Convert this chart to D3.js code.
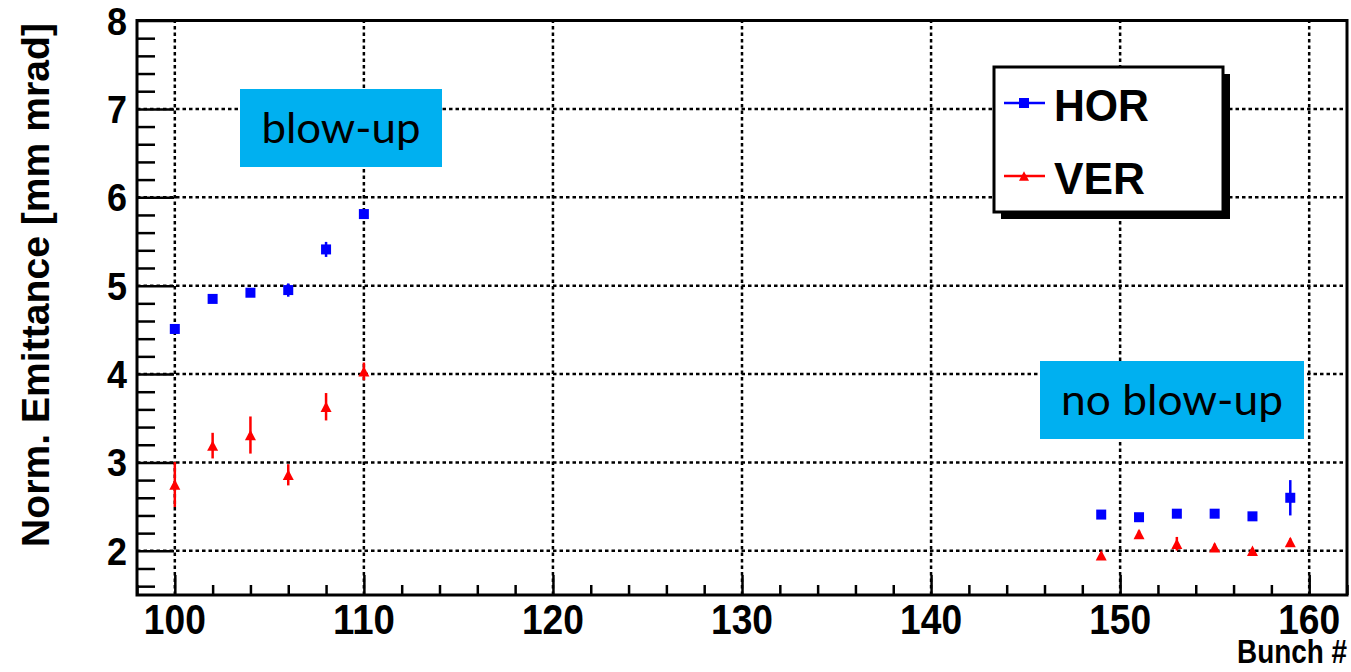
<!DOCTYPE html>
<html>
<head>
<meta charset="utf-8">
<script src="https://cdn.jsdelivr.net/npm/d3@7"></script>
<style>
    body { margin: 0; background: #fff; }
    svg { display: block; }
</style>
</head>
<body>
<svg id="chart"></svg>
<script>
// emittance per bunch

var bunchBlow = [ 100, 102, 104, 106, 108, 110 ];
var horBlow = [ 4.51, 4.85, 4.92, 4.95, 5.41, 5.81 ];
var horBlowErr = [ 0.04, 0.03, 0.03, 0.075, 0.085, 0.04 ];
var verBlow = [ 2.75, 3.19, 3.31, 2.86, 3.63, 4.03 ];
var verBlowErr = [ 0.255, 0.145, 0.21, 0.12, 0.155, 0.1 ];

var bunchNoBlow = [ 149, 151, 153, 155, 157, 159 ];
var horNoBlow = [ 2.41, 2.38, 2.42, 2.42, 2.39, 2.60 ];
var horNoBlowErr = [ 0.03, 0.03, 0.03, 0.03, 0.03, 0.2 ];
var verNoBlow = [ 1.95, 2.19, 2.08, 2.04, 2.00, 2.10 ];
var verNoBlowErr = [ 0.03, 0.04, 0.077, 0.04, 0.03, 0.04 ];

var xTicks = [ 100, 110, 120, 130, 140, 150, 160 ];
var yTicks = [ 2, 3, 4, 5, 6, 7, 8 ];
var seriesNames = [ 'HOR', 'VER' ];
var notes = [ 'blow-up', 'no blow-up' ];

var W = 1351, H = 672;
var padL = 137, padR = 1347, padT = 20.5, padB = 595;

var x = d3.scaleLinear().domain( [ 98, 162 ] ).range( [ padL, padR ] );
var y = d3.scaleLinear().domain( [ 1.5, 8 ] ).range( [ padB, padT ] );

var svg = d3.select( '#chart' )
    .attr( 'width', W )
    .attr( 'height', H );

var tickFont = '"Liberation Sans", Arial, sans-serif';

drawGrid();
drawAxes();
drawSeries( bunchBlow.concat( bunchNoBlow ), horBlow.concat( horNoBlow ), horBlowErr.concat( horNoBlowErr ), '#0000ff', 'square' );
drawSeries( bunchBlow.concat( bunchNoBlow ), verBlow.concat( verNoBlow ), verBlowErr.concat( verNoBlowErr ), '#ff0000', 'triangle' );
drawLegend();
drawNotes();

function drawGrid() {
    var g = svg.append( 'g' )
        .attr( 'stroke', '#000' )
        .attr( 'stroke-width', 2.5 )
        .attr( 'stroke-dasharray', '3.5,3' );

    g.selectAll( 'line.v' )
        .data( xTicks )
      .enter().append( 'line' )
        .attr( 'x1', function( d ) { return x( d ); } )
        .attr( 'x2', function( d ) { return x( d ); } )
        .attr( 'y1', padB )
        .attr( 'y2', padT );

    g.selectAll( 'line.h' )
        .data( yTicks.filter( function( d ) { return d < 8; } ) )
      .enter().append( 'line' )
        .attr( 'y1', function( d ) { return y( d ); } )
        .attr( 'y2', function( d ) { return y( d ); } )
        .attr( 'x1', padL )
        .attr( 'x2', padR );
}

function drawAxes() {
    // minor ticks every 2 bunches / 0.2 mm mrad
    var xMinor = d3.range( 98, 162.01, 2 );
    var yMinor = d3.range( 1.6, 8.01, 0.2 );

    var xAxis = d3.axisBottom( x )
        .tickValues( xMinor )
        .tickSizeInner( -10 )
        .tickSizeOuter( 0 )
        .tickFormat( '' );
    var gx = svg.append( 'g' )
        .attr( 'transform', 'translate(0,' + padB + ')' )
        .call( xAxis );
    gx.select( '.domain' ).remove();
    gx.selectAll( '.tick line' )
        .attr( 'stroke', '#000' )
        .attr( 'stroke-width', 2.5 )
        .attr( 'y2', function( d ) { return d % 10 === 0 ? -20 : -10; } );

    var yAxis = d3.axisLeft( y )
        .tickValues( yMinor )
        .tickSizeInner( -18 )
        .tickSizeOuter( 0 )
        .tickFormat( '' );
    var gy = svg.append( 'g' )
        .attr( 'transform', 'translate(' + padL + ',0)' )
        .call( yAxis );
    gy.select( '.domain' ).remove();
    gy.selectAll( '.tick line' )
        .attr( 'stroke', '#000' )
        .attr( 'stroke-width', 2.5 )
        .attr( 'x2', function( d ) { return Math.abs( d - Math.round( d ) ) < 0.01 ? 37 : 18; } );

    // frame
    svg.append( 'rect' )
        .attr( 'x', padL )
        .attr( 'y', padT )
        .attr( 'width', padR - padL )
        .attr( 'height', padB - padT )
        .attr( 'fill', 'none' )
        .attr( 'stroke', '#000' )
        .attr( 'stroke-width', 3 );

    svg.selectAll( 'text.xlab' )
        .data( xTicks )
      .enter().append( 'text' )
        .attr( 'x', function( d ) { return x( d ); } )
        .attr( 'y', 634 )
        .attr( 'text-anchor', 'middle' )
        .attr( 'font-family', tickFont )
        .attr( 'font-weight', 'bold' )
        .attr( 'font-size', 42 )
        .attr( 'textLength', 62 )
        .attr( 'lengthAdjust', 'spacingAndGlyphs' )
        .text( function( d ) { return d; } );

    svg.selectAll( 'text.ylab' )
        .data( yTicks )
      .enter().append( 'text' )
        .attr( 'x', 127 )
        .attr( 'y', function( d ) { return y( d ) + 14; } )
        .attr( 'text-anchor', 'end' )
        .attr( 'font-family', tickFont )
        .attr( 'font-weight', 'bold' )
        .attr( 'font-size', 39 )
        .attr( 'textLength', 20 )
        .attr( 'lengthAdjust', 'spacingAndGlyphs' )
        .text( function( d ) { return d; } );

    svg.append( 'text' )
        .attr( 'transform', 'translate(49,285) rotate(-90)' )
        .attr( 'text-anchor', 'middle' )
        .attr( 'font-family', tickFont )
        .attr( 'font-weight', 'bold' )
        .attr( 'font-size', 38 )
        .attr( 'textLength', 524 )
        .attr( 'lengthAdjust', 'spacingAndGlyphs' )
        .text( 'Norm. Emittance [mm mrad]' );

    svg.append( 'text' )
        .attr( 'x', 1347 )
        .attr( 'y', 663 )
        .attr( 'text-anchor', 'end' )
        .attr( 'font-family', tickFont )
        .attr( 'font-weight', 'bold' )
        .attr( 'font-size', 34 )
        .attr( 'textLength', 110 )
        .attr( 'lengthAdjust', 'spacingAndGlyphs' )
        .text( 'Bunch #' );
}

function marker( sel, shape, color, size ) {
    if ( shape === 'square' ) {
        sel.append( 'rect' )
            .attr( 'x', -size / 2 )
            .attr( 'y', -size / 2 )
            .attr( 'width', size )
            .attr( 'height', size )
            .attr( 'fill', color );
    } else {
        var h = size * 0.95;
        sel.append( 'path' )
            .attr( 'd', 'M0,' + ( -h / 2 ) + 'L' + ( size / 2 ) + ',' + ( h / 2 ) + 'L' + ( -size / 2 ) + ',' + ( h / 2 ) + 'Z' )
            .attr( 'fill', color );
    }
}

function drawSeries( xs, vals, errs, color, shape ) {
    var pts = xs.map( function( d, i ) {
        return { b: d, v: vals[ i ], e: errs[ i ] };
    });

    var g = svg.append( 'g' );

    g.selectAll( 'line' )
        .data( pts )
      .enter().append( 'line' )
        .attr( 'x1', function( d ) { return x( d.b ); } )
        .attr( 'x2', function( d ) { return x( d.b ); } )
        .attr( 'y1', function( d ) { return y( d.v - d.e ); } )
        .attr( 'y2', function( d ) { return y( d.v + d.e ); } )
        .attr( 'stroke', color )
        .attr( 'stroke-width', 2.5 );

    g.selectAll( 'g.pt' )
        .data( pts )
      .enter().append( 'g' )
        .attr( 'transform', function( d ) { return 'translate(' + x( d.b ) + ',' + y( d.v ) + ')'; } )
        .each( function() {
            marker( d3.select( this ), shape, color, shape === 'square' ? 10 : 11 );
        });
}

function drawLegend() {
    var bx = 994, by = 67, bw = 229, bh = 145;

    svg.append( 'rect' )
        .attr( 'x', bx + 7 )
        .attr( 'y', by + 7 )
        .attr( 'width', bw )
        .attr( 'height', bh )
        .attr( 'fill', '#000' );

    svg.append( 'rect' )
        .attr( 'x', bx )
        .attr( 'y', by )
        .attr( 'width', bw )
        .attr( 'height', bh )
        .attr( 'fill', '#fff' )
        .attr( 'stroke', '#000' )
        .attr( 'stroke-width', 3 );

    var rows = [
        { name: seriesNames[ 0 ], color: '#0000ff', shape: 'square', y: 103, w: 95 },
        { name: seriesNames[ 1 ], color: '#ff0000', shape: 'triangle', y: 176, w: 91 }
    ];

    rows.forEach( function( r ) {
        svg.append( 'line' )
            .attr( 'x1', 1004 )
            .attr( 'x2', 1045 )
            .attr( 'y1', r.y )
            .attr( 'y2', r.y )
            .attr( 'stroke', r.color )
            .attr( 'stroke-width', 2.5 );
        var m = svg.append( 'g' )
            .attr( 'transform', 'translate(1024,' + r.y + ')' );
        marker( m, r.shape, r.color, 10 );
        svg.append( 'text' )
            .attr( 'x', 1054 )
            .attr( 'y', r.y + 18 )
            .attr( 'font-family', tickFont )
            .attr( 'font-weight', 'bold' )
            .attr( 'font-size', 44 )
            .attr( 'textLength', r.w )
            .attr( 'lengthAdjust', 'spacingAndGlyphs' )
            .text( r.name );
    });
}

function drawNotes() {
    var boxes = [
        { text: notes[ 0 ], x: 240, y: 89, w: 202, h: 78, tw: 159 },
        { text: notes[ 1 ], x: 1040, y: 361, w: 264, h: 78, tw: 222 }
    ];

    boxes.forEach( function( b ) {
        svg.append( 'rect' )
            .attr( 'x', b.x )
            .attr( 'y', b.y )
            .attr( 'width', b.w )
            .attr( 'height', b.h )
            .attr( 'fill', '#00b0f0' );
        svg.append( 'text' )
            .attr( 'x', b.x + b.w / 2 )
            .attr( 'y', b.y + 54 )
            .attr( 'text-anchor', 'middle' )
            .attr( 'font-family', 'Lato, "Open Sans", sans-serif' )
            .attr( 'font-size', 42 )
            .attr( 'textLength', b.tw )
            .attr( 'lengthAdjust', 'spacingAndGlyphs' )
            .attr( 'fill', '#000' )
            .text( b.text );
    });
}
</script>
</body>
</html>
